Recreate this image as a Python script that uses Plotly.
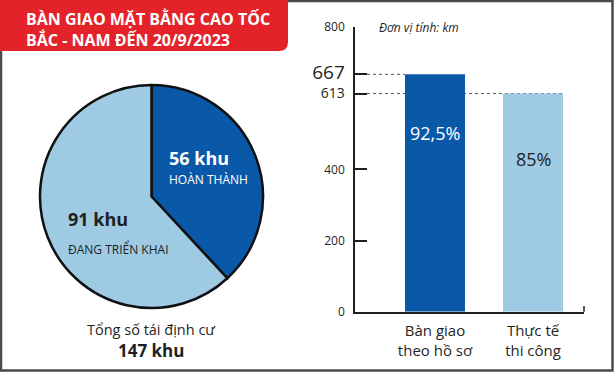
import plotly.graph_objects as go

W, H = 614, 372


def px(x):
    return x / W


def py(y):
    return 1 - y / H


# ---------------- data ----------------
title_lines = ["BÀN GIAO MẶT BẰNG CAO TỐC", "BẮC - NAM ĐẾN 20/9/2023"]
pie_labels = ["Hoàn thành", "Đang triển khai"]
pie_values = [56, 91]
pie_count_text = ["56 khu", "91 khu"]
pie_status_text = ["HOÀN THÀNH", "ĐANG TRIỂN KHAI"]
total_label = "Tổng số tái định cư"
total_value = "147 khu"

bar_categories = ["Bàn giao<br>theo hồ sơ", "Thực tế<br>thi công"]
bar_values = [667, 613]
bar_pct = ["92,5%", "85%"]
y_tickvals = [0, 200, 400, 613, 667, 800]
y_ticktext = ["0", "200", "400", "613", "667", "800"]
unit_text = "Đơn vị tính: km"

# ---------------- style ----------------
DARK = "#0a59a9"
LIGHT = "#9ecae3"
RED = "#e42229"
INK = "#1f1f1f"
FONT = "Open Sans"
tick_sizes = {"0": 12, "200": 12, "400": 12, "613": 14, "667": 19, "800": 12}

fig = go.Figure()

fig.add_trace(go.Pie(
    labels=pie_labels, values=pie_values, sort=False, direction="clockwise",
    rotation=0, marker=dict(colors=[DARK, LIGHT], line=dict(color="#111111", width=2.5)),
    textinfo="none", hoverinfo="label+value", showlegend=False,
    domain=dict(x=[px(40), px(263)], y=[py(308), py(85)]),
))

bar_w = 0.612
fig.add_trace(go.Bar(
    x=[0, 1], y=bar_values, width=bar_w, marker=dict(color=[DARK, LIGHT], line=dict(width=0)),
    showlegend=False, hoverinfo="y",
))

ticktext = [f"<span style='font-size:{tick_sizes[t]}px'>{t}</span>" for t in y_ticktext]
x_range = [-0.816, 1.52]

fig.update_layout(
    width=W, height=H, margin=dict(l=0, r=0, t=0, b=0),
    paper_bgcolor="white", plot_bgcolor="rgba(0,0,0,0)",
    font=dict(family=FONT, color=INK),
    xaxis=dict(domain=[px(355), px(584)], range=x_range, tickvals=[0, 1], ticktext=bar_categories,
               showline=True, linecolor=INK, linewidth=1.5, ticks="", showgrid=False, zeroline=False,
               automargin=False, ticklabelstandoff=5,
               tickfont=dict(size=15, color=INK, family=FONT), fixedrange=True),
    yaxis=dict(domain=[py(311.7), py(27)], range=[0, 800], tickvals=y_tickvals, ticktext=ticktext,
               showline=True, linecolor=INK, linewidth=1.5, ticks="inside", ticklen=12, tickwidth=1.5,
               tickcolor=INK, showgrid=False, zeroline=False, ticklabelstandoff=6, automargin=False,
               tickfont=dict(size=12, color=INK, family=FONT), fixedrange=True),
)

shapes = []
# outer frame
shapes.append(dict(type="rect", xref="paper", yref="paper", x0=px(1), x1=px(612.5), y0=py(370.5), y1=py(1),
                   line=dict(color="#4a4a4a", width=2.5), fillcolor="rgba(0,0,0,0)", layer="below"))
# red title box with rounded bottom-right corner
x1, yb, r = px(288), py(51), 9
path = (f"M 0,1 L {x1},1 L {x1},{py(51 - r)} Q {x1},{yb} {px(288 - r)},{yb} L 0,{yb} Z")
shapes.append(dict(type="path", xref="paper", yref="paper", path=path, fillcolor=RED, line=dict(width=0)))
# dotted reference lines for the bar values
shapes.append(dict(type="line", xref="x", yref="y", x0=x_range[0], x1=0 - bar_w / 2, y0=bar_values[0],
                   y1=bar_values[0], line=dict(color="#555555", width=1, dash="dot"), layer="below"))
shapes.append(dict(type="line", xref="x", yref="y", x0=x_range[0], x1=1 + bar_w / 2, y0=bar_values[1],
                   y1=bar_values[1], line=dict(color="#555555", width=1, dash="dot"), layer="below"))
# end cap of x axis
shapes.append(dict(type="line", xref="x domain", yref="y domain", x0=1, x1=1, y0=0, y1=0.02,
                   line=dict(color=INK, width=1.5)))
fig.update_layout(shapes=shapes)

ann = []
ann.append(dict(x=px(24), y=py(19), xref="paper", yref="paper", xanchor="left", yanchor="middle",
                text=f"<b>{title_lines[0]}</b>", showarrow=False, font=dict(size=16, color="white", family=FONT)))
ann.append(dict(x=px(24), y=py(40), xref="paper", yref="paper", xanchor="left", yanchor="middle",
                text=f"<b>{title_lines[1]}</b>", showarrow=False, font=dict(size=16, color="white", family=FONT)))
ann.append(dict(x=px(167), y=py(158), xref="paper", yref="paper", xanchor="left", yanchor="middle",
                text=f"<b>{pie_count_text[0]}</b>", showarrow=False, font=dict(size=18, color="white", family=FONT)))
ann.append(dict(x=px(167), y=py(179), xref="paper", yref="paper", xanchor="left", yanchor="middle",
                text=pie_status_text[0], showarrow=False, font=dict(size=12, color="white", family=FONT)))
ann.append(dict(x=px(66), y=py(219), xref="paper", yref="paper", xanchor="left", yanchor="middle",
                text=f"<b>{pie_count_text[1]}</b>", showarrow=False, font=dict(size=18, color=INK, family=FONT)))
ann.append(dict(x=px(66), y=py(249), xref="paper", yref="paper", xanchor="left", yanchor="middle",
                text=pie_status_text[1], showarrow=False, font=dict(size=12, color=INK, family=FONT)))
ann.append(dict(x=px(151), y=py(329), xref="paper", yref="paper", xanchor="center", yanchor="middle",
                text=total_label, showarrow=False, font=dict(size=14.5, color=INK, family=FONT)))
ann.append(dict(x=px(151), y=py(350), xref="paper", yref="paper", xanchor="center", yanchor="middle",
                text=f"<b>{total_value}</b>", showarrow=False, font=dict(size=17, color=INK, family=FONT)))
ann.append(dict(x=px(377), y=py(27), xref="paper", yref="paper", xanchor="left", yanchor="middle",
                text=f"<i>{unit_text}</i>", showarrow=False, font=dict(size=12, color=INK, family=FONT)))
ann.append(dict(x=0, y=py(133), xref="x", yref="paper", xanchor="center", yanchor="middle",
                text=bar_pct[0], showarrow=False, font=dict(size=18, color="white", family=FONT)))
ann.append(dict(x=1, y=py(159), xref="x", yref="paper", xanchor="center", yanchor="middle",
                text=bar_pct[1], showarrow=False, font=dict(size=18, color=INK, family=FONT)))
fig.update_layout(annotations=ann)

fig.write_html("out.html")
